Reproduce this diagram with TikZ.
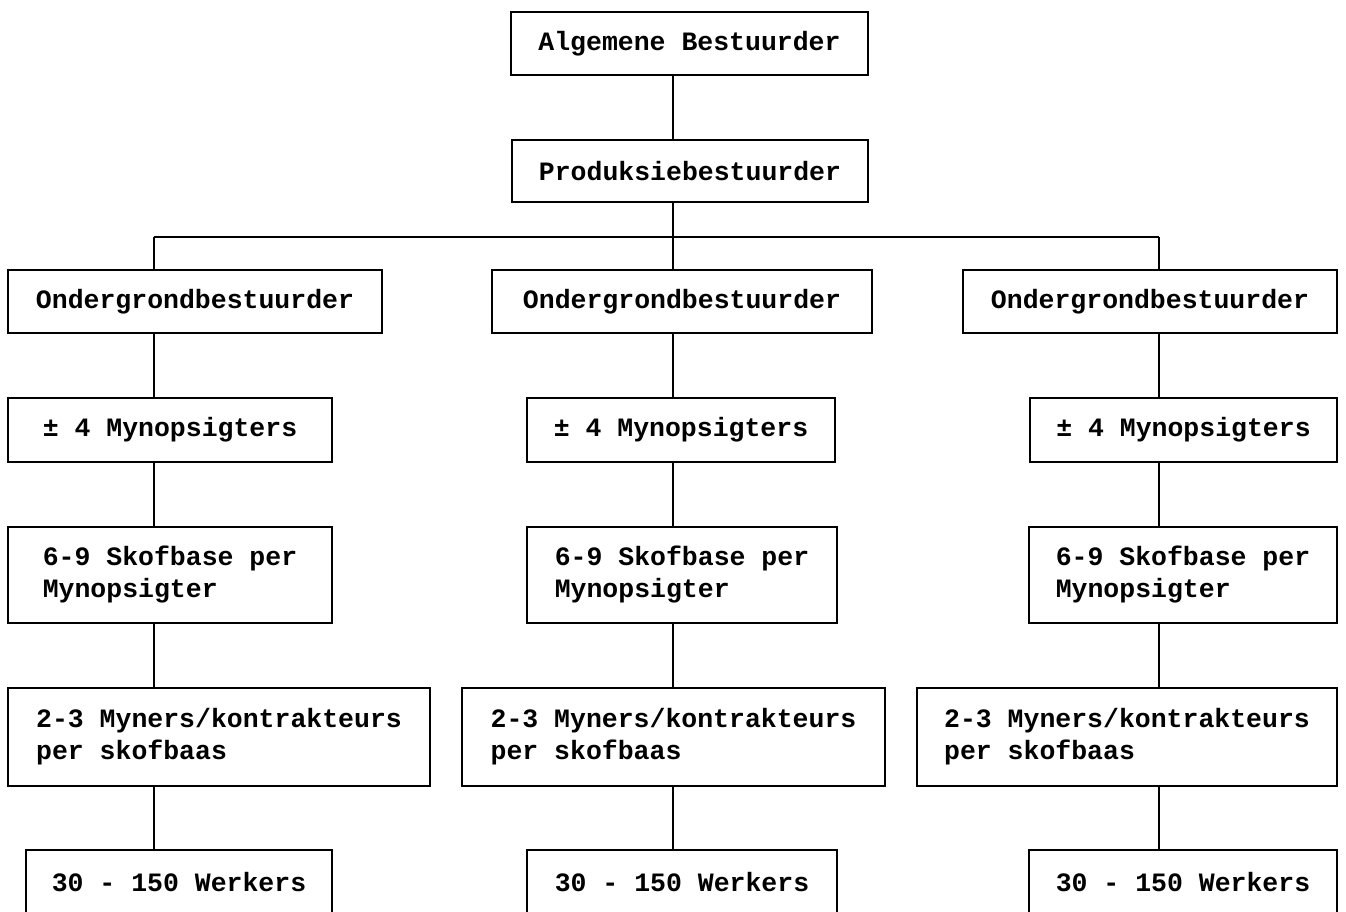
\documentclass[tikz,border=0pt]{standalone}
\usepackage{fontspec}
\setmonofont{Liberation Mono}
\begin{document}
\begin{tikzpicture}[x=1pt,y=-1pt,
  box/.style={draw=black,line width=2.4pt,inner sep=0pt,align=left,
    font=\ttfamily\bfseries\fontsize{26.5}{32}\selectfont},
  conn/.style={line width=2.4pt}]
\useasboundingbox (0,0) rectangle (1346,912);
\clip (0,0) rectangle (1346,912);
\fill[white] (0,0) rectangle (1346,912);
% trunk x coordinates
\coordinate (tx) at (673,0);
\coordinate (lx) at (154,0);
\coordinate (rx) at (1159,0);
\coordinate (bar) at (0,237);
% top
\node[box,minimum width=357,minimum height=63] (ab) at (689.5,43.5) {Algemene Bestuurder};
\node[box,minimum width=356,minimum height=62] (pb) at (690,171) {Produksiebestuurder};
% row 3
\node[box,minimum width=374,minimum height=63] (o1) at (195,301.5) {Ondergrondbestuurder};
\node[box,minimum width=380,minimum height=63] (o2) at (682,301.5) {Ondergrondbestuurder};
\node[box,minimum width=374,minimum height=63] (o3) at (1150,301.5) {Ondergrondbestuurder};
% row 4
\node[box,minimum width=324,minimum height=64] (m1) at (170,430) {± 4 Mynopsigters};
\node[box,minimum width=308,minimum height=64] (m2) at (681,430) {± 4 Mynopsigters};
\node[box,minimum width=307,minimum height=64] (m3) at (1183.5,430) {± 4 Mynopsigters};
% row 5
\node[box,minimum width=324,minimum height=96] (s1) at (170,575) {6-9 Skofbase per\\Mynopsigter};
\node[box,minimum width=310,minimum height=96] (s2) at (682,575) {6-9 Skofbase per\\Mynopsigter};
\node[box,minimum width=308,minimum height=96] (s3) at (1183,575) {6-9 Skofbase per\\Mynopsigter};
% row 6
\node[box,minimum width=422,minimum height=98] (k1) at (219,737) {2-3 Myners/kontrakteurs\\per skofbaas};
\node[box,minimum width=423,minimum height=98] (k2) at (673.5,737) {2-3 Myners/kontrakteurs\\per skofbaas};
\node[box,minimum width=420,minimum height=98] (k3) at (1127,737) {2-3 Myners/kontrakteurs\\per skofbaas};
% row 7
\node[box,minimum width=306,minimum height=64] (w1) at (179,882) {30 - 150 Werkers};
\node[box,minimum width=310,minimum height=64] (w2) at (682,882) {30 - 150 Werkers};
\node[box,minimum width=308,minimum height=64] (w3) at (1183,882) {30 - 150 Werkers};
% connectors
\draw[conn] (ab.south -| tx) -- (pb.north -| tx);
\draw[conn] (pb.south -| tx) -- (o2.north -| tx);
\draw[conn] (bar -| lx) -- (bar -| rx);
\draw[conn] (bar -| lx) -- (o1.north -| lx);
\draw[conn] (bar -| rx) -- (o3.north -| rx);
\foreach \c/\a/\b/\d/\e in {lx/o1/m1/s1/k1, tx/o2/m2/s2/k2, rx/o3/m3/s3/k3}{
  \draw[conn] (\a.south -| \c) -- (\b.north -| \c);
  \draw[conn] (\b.south -| \c) -- (\d.north -| \c);
  \draw[conn] (\d.south -| \c) -- (\e.north -| \c);
}
\draw[conn] (k1.south -| lx) -- (w1.north -| lx);
\draw[conn] (k2.south -| tx) -- (w2.north -| tx);
\draw[conn] (k3.south -| rx) -- (w3.north -| rx);
\end{tikzpicture}
\end{document}
